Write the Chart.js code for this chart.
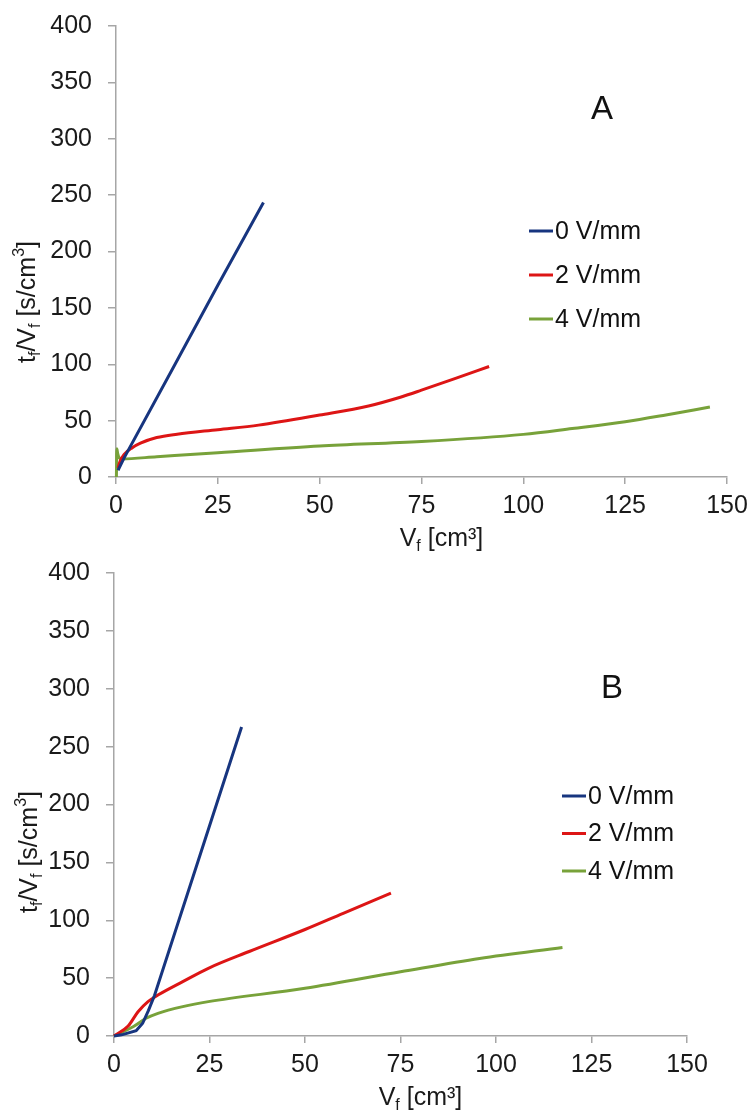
<!DOCTYPE html>
<html>
<head>
<meta charset="utf-8">
<script src="https://cdn.jsdelivr.net/npm/chart.js@4.4.1/dist/chart.umd.min.js"></script>
<style>
  html, body { margin: 0; padding: 0; background: #fff; }
  .wrap { position: absolute; left: 0; width: 749px; height: 556px; }
  #wa { top: 0; }
  #wb { top: 556px; }
</style>
</head>
<body>
<div class="wrap" id="wa"><canvas id="chartA"></canvas></div>
<div class="wrap" id="wb"><canvas id="chartB"></canvas></div>
<script>
// --- data (x = Vf in cm3, y = tf/Vf in s/cm3) ---
const seriesNames = ['0 V/mm', '2 V/mm', '4 V/mm'];
const seriesColors = ['#17357f', '#dd1515', '#78a23a'];

const xTicks = [0, 25, 50, 75, 100, 125, 150];
const yTicks = [0, 50, 100, 150, 200, 250, 300, 350, 400];

// panel A
const a0x = [0.5, 2, 14.5, 25, 36.2];
const a0y = [6, 17, 100, 170, 243.5];
const a2x = [0.5, 1, 2, 4, 6, 10, 15, 25, 35, 50, 62, 70, 75, 83, 91.6];
const a2y = [8, 14, 20, 26, 30, 35, 38, 42, 46, 55, 63, 71, 77, 87, 98];
const a4x = [0.1, 0.2, 0.4, 0.8, 1.4, 10, 25, 50, 75, 100, 112, 125, 135, 145.8];
const a4y = [0, 25, 21, 17, 16, 18, 21.5, 27.5, 31.5, 37.8, 43, 49, 55, 62];

// panel B
const b0x = [0, 2, 5.8, 7.5, 9, 10.6, 22, 33.4];
const b0y = [0, 1, 4.5, 11, 22, 35, 151, 267];
const b2x = [0, 3.7, 6.3, 8.9, 11.5, 18, 24.7, 35.4, 50, 60, 72.5];
const b2y = [0, 8.6, 21, 29.7, 35.4, 47, 58.5, 73, 92, 106, 123.4];
const b4x = [0, 5, 8.4, 11.5, 18, 24.7, 50, 75, 95.7, 117.4];
const b4y = [0, 8, 15.3, 19.6, 25.4, 29.7, 41.2, 55.5, 67, 76.5];

const pts = (xs, ys) => xs.map((x, i) => ({ x: x, y: ys[i] }));

const FONT = '"Liberation Sans", Arial, sans-serif';
const AXIS = '#a6a6a6';

// draws text with small sub/superscript pieces, centred at (cx, cy)
function richText(ctx, parts, cx, cy, size, rot) {
  ctx.save();
  ctx.translate(cx, cy);
  if (rot) ctx.rotate(rot);
  ctx.fillStyle = '#1a1a1a';
  ctx.textBaseline = 'middle';
  ctx.textAlign = 'left';
  const small = Math.round(size * 0.62);
  let w = 0;
  parts.forEach(p => {
    ctx.font = (p.sub || p.sup ? small : size) + 'px ' + FONT;
    p.w = ctx.measureText(p.t).width;
    w += p.w;
  });
  let x = -w / 2;
  parts.forEach(p => {
    ctx.font = (p.sub || p.sup ? small : size) + 'px ' + FONT;
    let dy = 0;
    if (p.sub) dy = size * 0.3;
    if (p.sup) dy = -size * 0.32;
    ctx.fillText(p.t, x, dy);
    x += p.w;
  });
  ctx.restore();
}

const yTitleParts = [{ t: 't' }, { t: 'f', sub: true }, { t: '/V' }, { t: 'f', sub: true },
  { t: ' [s/cm' }, { t: '3', sup: true }, { t: ']' }];
const xTitleParts = [{ t: 'V' }, { t: 'f', sub: true }, { t: ' [cm³]' }];

// panel decorations: letter, legend, axis titles
const decor = {
  id: 'decor',
  afterDraw(chart, args, o) {
    const ctx = chart.ctx;
    const area = chart.chartArea;
    ctx.save();
    ctx.fillStyle = '#111';
    ctx.font = '33px ' + FONT;
    ctx.textAlign = 'center';
    ctx.textBaseline = 'middle';
    ctx.fillText(o.letter, o.letterX, o.letterY);

    ctx.font = '25px ' + FONT;
    ctx.textAlign = 'left';
    chart.data.datasets.forEach((ds, i) => {
      const y = o.legY + i * o.legGap;
      ctx.strokeStyle = ds.borderColor;
      ctx.lineWidth = 3;
      ctx.beginPath();
      ctx.moveTo(o.legX, y);
      ctx.lineTo(o.legX + 24, y);
      ctx.stroke();
      ctx.fillStyle = '#111';
      ctx.fillText(ds.label, o.legX + 26, y + 1);
    });
    ctx.restore();

    richText(ctx, yTitleParts, o.yTitleX, o.yTitleY, 25, -Math.PI / 2);
    richText(ctx, xTitleParts, (area.left + area.right) / 2 + 20, area.bottom + 62, 25, 0);
  }
};

function makeChart(id, sets, box, deco, modes) {
  const [left, top, right, bottom] = box;
  return new Chart(document.getElementById(id), {
    type: 'scatter',
    data: {
      datasets: sets.map((s, i) => ({
        label: seriesNames[i],
        data: s,
        showLine: true,
        borderColor: seriesColors[i],
        backgroundColor: seriesColors[i],
        borderWidth: 3,
        pointRadius: 0,
        cubicInterpolationMode: modes[i],
        tension: modes[i] === 'monotone' ? 0.4 : 0,
        clip: false
      }))
    },
    options: {
      responsive: true,
      maintainAspectRatio: false,
      animation: false,
      layout: { padding: { left: 0, top: top, right: 749 - right, bottom: 0 } },
      plugins: { legend: { display: false }, tooltip: { enabled: false }, decor: deco },
      scales: {
        x: {
          type: 'linear',
          min: 0, max: 150,
          afterBuildTicks: s => { s.ticks = xTicks.map(v => ({ value: v })); },
          afterFit: s => { s.height = 556 - bottom; s.paddingLeft = 0; s.paddingRight = 0; },
          border: { color: AXIS, width: 1.5 },
          grid: { display: true, drawOnChartArea: false, color: AXIS, lineWidth: 1.5, tickLength: 7 },
          ticks: { color: '#1a1a1a', font: { family: FONT, size: 25 }, padding: 7, maxRotation: 0 }
        },
        y: {
          type: 'linear',
          min: 0, max: 400,
          afterBuildTicks: s => { s.ticks = yTicks.map(v => ({ value: v })); },
          afterFit: s => { s.width = left; s.paddingTop = 0; s.paddingBottom = 0; },
          border: { color: AXIS, width: 1.5 },
          grid: { display: true, drawOnChartArea: false, color: AXIS, lineWidth: 1.5, tickLength: 8 },
          ticks: { color: '#1a1a1a', font: { family: FONT, size: 25 }, padding: 16 }
        }
      }
    },
    plugins: [decor]
  });
}

makeChart('chartA', [pts(a0x, a0y), pts(a2x, a2y), pts(a4x, a4y)],
  [116, 26, 727, 477],
  { letter: 'A', letterX: 602, letterY: 110, legX: 529, legY: 231, legGap: 44, yTitleX: 28, yTitleY: 302 },
  ['default', 'monotone', 'monotone']);

makeChart('chartB', [pts(b0x, b0y), pts(b2x, b2y), pts(b4x, b4y)],
  [114, 17, 687, 480],
  { letter: 'B', letterX: 612, letterY: 133, legX: 562, legY: 240, legGap: 37.5, yTitleX: 30, yTitleY: 296 },
  ['default', 'monotone', 'monotone']);
</script>
</body>
</html>
